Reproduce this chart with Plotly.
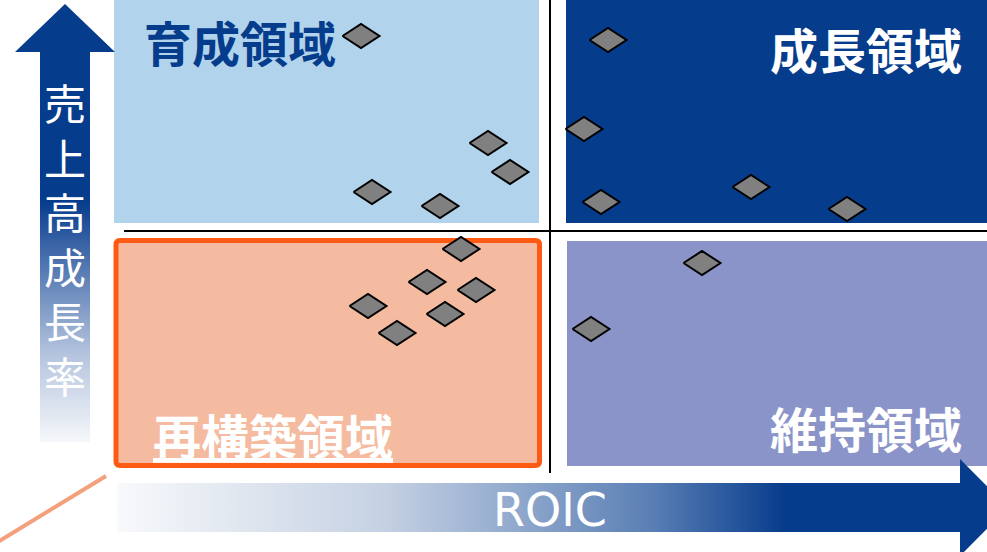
import plotly.graph_objects as go

# ──────────────────────────────────────────────
# Data (canvas units: x = ROIC axis, y = sales growth axis)
# ──────────────────────────────────────────────
roic   = [361, 488, 510, 372, 440,
          608, 584, 601, 751, 847,
          461, 427, 476, 368, 445, 397,
          702, 591]
growth = [516, 409, 380, 360, 346,
          512, 423, 350, 365, 343,
          303, 270, 262, 246, 238, 219,
          289, 223]

quadrant_labels = ["育成領域", "成長領域", "再構築領域", "維持領域"]
y_axis_label = "売上高成長率"
x_axis_label = "ROIC"

X_SPLIT = 550
Y_SPLIT = 321

DARK_BLUE = "#063C8C"
LIGHT_BLUE = "#B1D4EC"
SALMON = "#F5BBA0"
ORANGE = "#FF5A14"
LAVENDER = "#8A94C8"
FONT = "Noto Sans CJK JP"

# diamond outline built around each point
HW, HH = 18.5, 12
dx, dy = [], []
for x, y in zip(roic, growth):
    dx += [x - HW, x, x + HW, x, x - HW, None]
    dy += [y, y + HH, y, y - HH, y, None]


def rounded_rect(x0, y0, x1, y1, r):
    return (f"M{x0 + r},{y0} L{x1 - r},{y0} Q{x1},{y0} {x1},{y0 + r} "
            f"L{x1},{y1 - r} Q{x1},{y1} {x1 - r},{y1} L{x0 + r},{y1} "
            f"Q{x0},{y1} {x0},{y1 - r} L{x0},{y0 + r} Q{x0},{y0} {x0 + r},{y0} Z")


fig = go.Figure()

# up arrow (sales growth)
fig.add_trace(go.Scatter(
    x=[40, 40, 15, 65, 115, 90, 90, 40],
    y=[110, 500, 500, 548, 500, 500, 110, 110],
    mode="lines", line=dict(width=0),
    fill="toself",
    fillgradient=dict(type="vertical", colorscale=[
        [0, "#F6F8FB"], [0.2, "#B4C4DE"], [0.45, "#3A64A6"],
        [0.55, DARK_BLUE], [1, DARK_BLUE]]),
    hoverinfo="skip",
))

# right arrow (ROIC)
fig.add_trace(go.Scatter(
    x=[117, 960, 960, 1008, 960, 960, 117, 117],
    y=[69, 69, 93, 44.5, -4, 20, 20, 69],
    mode="lines", line=dict(width=0),
    fill="toself",
    fillgradient=dict(type="horizontal", colorscale=[
        [0, "#F8F9FB"], [0.3, "#C5D1E3"], [0.6, "#5A7FB5"],
        [0.75, DARK_BLUE], [1, DARK_BLUE]]),
    hoverinfo="skip",
))

# orange leader line
fig.add_trace(go.Scatter(
    x=[106, -4], y=[76, 9], mode="lines",
    line=dict(color="#F4A07C", width=4), hoverinfo="skip",
))

# companies
fig.add_trace(go.Scatter(
    x=dx, y=dy, mode="lines", fill="toself",
    fillcolor="#808080", line=dict(color="black", width=2),
    hoverinfo="skip",
))

shapes = [
    dict(type="rect", x0=114, x1=539, y0=Y_SPLIT + 8, y1=560,
         fillcolor=LIGHT_BLUE, line=dict(width=0), layer="below"),
    dict(type="rect", x0=566, x1=1000, y0=Y_SPLIT + 8, y1=560,
         fillcolor=DARK_BLUE, line=dict(width=0), layer="below"),
    dict(type="rect", x0=567, x1=1000, y0=86, y1=311,
         fillcolor=LAVENDER, line=dict(width=0), layer="below"),
    dict(type="path", path=rounded_rect(116, 86.5, 539.5, 311.5, 4),
         fillcolor=SALMON, line=dict(color=ORANGE, width=5), layer="below"),
    dict(type="line", x0=124, x1=1000, y0=Y_SPLIT, y1=Y_SPLIT,
         line=dict(color="black", width=2), layer="below"),
    dict(type="line", x0=X_SPLIT, x1=X_SPLIT, y0=79, y1=560,
         line=dict(color="black", width=2), layer="below"),
]

bold = dict(family=FONT, size=48, weight="bold")
annotations = [
    dict(x=142, y=511, text=quadrant_labels[0], xanchor="left",
         font=dict(bold, color=DARK_BLUE)),
    dict(x=964, y=504, text=quadrant_labels[1], xanchor="right",
         font=dict(bold, color="white")),
    dict(x=151, y=118, text=quadrant_labels[2], xanchor="left",
         font=dict(bold, color="white", lineposition="under")),
    dict(x=964, y=125, text=quadrant_labels[3], xanchor="right",
         font=dict(bold, color="white")),
    dict(x=65, y=314, text="<br>".join(y_axis_label),
         font=dict(family=FONT, size=42, color="white")),
    dict(x=550, y=42, text=x_axis_label,
         font=dict(family="DejaVu Sans", size=46, color="white")),
]
for a in annotations:
    a.update(xref="x", yref="y", showarrow=False, yanchor="middle")

fig.update_layout(
    width=987, height=552,
    margin=dict(l=0, r=0, t=0, b=0),
    paper_bgcolor="white", plot_bgcolor="white",
    showlegend=False,
    xaxis=dict(range=[0, 987], visible=False, fixedrange=True),
    yaxis=dict(range=[0, 552], visible=False, fixedrange=True),
    shapes=shapes,
    annotations=annotations,
)

fig.write_html(
    "out.html",
    config={"displayModeBar": False},
    post_script="document.body.style.margin='0';document.body.style.overflow='hidden';",
)
